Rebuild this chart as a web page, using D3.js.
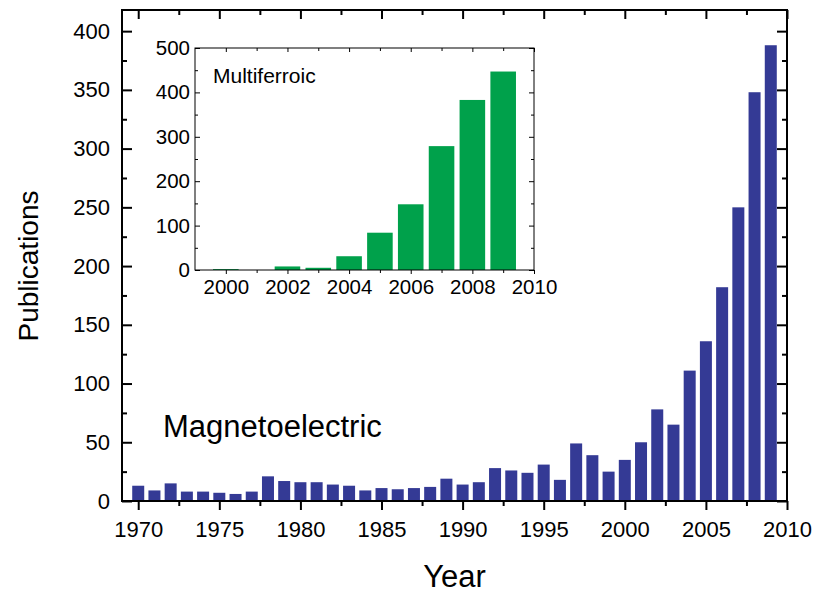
<!DOCTYPE html>
<html>
<head>
<meta charset="utf-8">
<script src="https://cdn.jsdelivr.net/npm/d3@7"></script>
<style>
  html, body { margin: 0; padding: 0; background: #fff; }
  svg { display: block; font-family: "Liberation Sans", Arial, sans-serif; }
  .axis text { fill: #000; }
  .axis line { stroke: #000; }
</style>
</head>
<body>
<svg id="chart" width="817" height="594"></svg>
<script>
// Yearly publication counts: magnetoelectric (main panel)
const meYears = d3.range(1970, 2010);
const meCounts = [13, 9, 15, 8, 8, 7, 6, 8, 21, 17,
                  16, 16, 14, 13, 9, 11, 10, 11, 12, 19,
                  14, 16, 28, 26, 24, 31, 18, 49, 39, 25,
                  35, 50, 78, 65, 111, 136, 182, 250, 348, 388];

// Yearly publication counts: multiferroic (inset)
const mfYears = d3.range(2000, 2010);
const mfCounts = [2, 0, 8, 5, 31, 84, 148, 279, 383, 447];

// Tick values
const meYTicks = [0, 50, 100, 150, 200, 250, 300, 350, 400];
const meYMinor = [25, 75, 125, 175, 225, 275, 325, 375];
const meXTicks = [1970, 1975, 1980, 1985, 1990, 1995, 2000, 2005, 2010];
const meXMinor = [1972.5, 1977.5, 1982.5, 1987.5, 1992.5, 1997.5, 2002.5, 2007.5];
const mfYTicks = [0, 100, 200, 300, 400, 500];
const mfYMinor = [50, 150, 250, 350, 450];
const mfXTicks = [2000, 2002, 2004, 2006, 2008, 2010];
const mfXMinor = [2001, 2003, 2005, 2007, 2009];

const svg = d3.select("#chart");

// ---------- main panel ----------
const frame = { left: 122, right: 787, top: 10, bottom: 501 };
const x = d3.scaleLinear().domain([1969, 2010]).range([frame.left, frame.right]);
const y = d3.scaleLinear().domain([0, 418]).range([frame.bottom, frame.top]);
const barW = (x(1) - x(0)) * 0.74;

svg.append("g").selectAll("rect")
  .data(meYears.map((yr, i) => ({ yr, v: meCounts[i] })))
  .join("rect")
  .attr("x", d => x(d.yr) - barW / 2)
  .attr("y", d => y(d.v))
  .attr("width", barW)
  .attr("height", d => y(0) - y(d.v))
  .attr("fill", "#343a95");

function styleAxis(g, fontSize, width) {
  g.attr("class", "axis");
  g.select(".domain").remove();
  g.selectAll("line").attr("stroke-width", width);
  g.selectAll("text").style("font-size", fontSize + "px");
}

// left
svg.append("g").attr("transform", `translate(${frame.left},0)`)
  .call(d3.axisLeft(y).tickValues(meYTicks).tickSize(-10).tickPadding(12))
  .call(g => styleAxis(g, 22, 2));
svg.append("g").attr("transform", `translate(${frame.left},0)`)
  .call(d3.axisLeft(y).tickValues(meYMinor).tickSize(-5).tickFormat(""))
  .call(g => styleAxis(g, 22, 2));
// right
svg.append("g").attr("transform", `translate(${frame.right},0)`)
  .call(d3.axisRight(y).tickValues(meYTicks).tickSize(-10).tickFormat(""))
  .call(g => styleAxis(g, 22, 2));
svg.append("g").attr("transform", `translate(${frame.right},0)`)
  .call(d3.axisRight(y).tickValues(meYMinor).tickSize(-5).tickFormat(""))
  .call(g => styleAxis(g, 22, 2));
// bottom
svg.append("g").attr("transform", `translate(0,${frame.bottom})`)
  .call(d3.axisBottom(x).tickValues(meXTicks).tickSize(9).tickPadding(11).tickFormat(d3.format("d")))
  .call(g => styleAxis(g, 22, 2));
svg.append("g").attr("transform", `translate(0,${frame.bottom})`)
  .call(d3.axisBottom(x).tickValues(meXMinor).tickSize(5).tickFormat(""))
  .call(g => styleAxis(g, 22, 2));
// top
svg.append("g").attr("transform", `translate(0,${frame.top})`)
  .call(d3.axisTop(x).tickValues(meXTicks).tickSize(-9).tickFormat(""))
  .call(g => styleAxis(g, 22, 2));
svg.append("g").attr("transform", `translate(0,${frame.top})`)
  .call(d3.axisTop(x).tickValues(meXMinor).tickSize(-5).tickFormat(""))
  .call(g => styleAxis(g, 22, 2));

svg.append("rect")
  .attr("x", frame.left).attr("y", frame.top)
  .attr("width", frame.right - frame.left).attr("height", frame.bottom - frame.top)
  .attr("fill", "none").attr("stroke", "#000").attr("stroke-width", 2);

// titles
svg.append("text")
  .attr("x", (frame.left + frame.right) / 2).attr("y", 587)
  .attr("text-anchor", "middle").style("font-size", "31px").text("Year");
svg.append("text")
  .attr("transform", "translate(38,266) rotate(-90)")
  .attr("text-anchor", "middle").style("font-size", "28px").text("Publications");
svg.append("text")
  .attr("x", 163).attr("y", 437)
  .style("font-size", "31px").text("Magnetoelectric");

// ---------- inset ----------
const inset = { left: 195, right: 534, top: 48, bottom: 270 };
const xi = d3.scaleLinear().domain([1999, 2010]).range([inset.left, inset.right]);
const yi = d3.scaleLinear().domain([0, 500]).range([inset.bottom, inset.top]);
const barWi = (xi(1) - xi(0)) * 0.83;

const ins = svg.append("g");
ins.append("rect")
  .attr("x", inset.left).attr("y", inset.top)
  .attr("width", inset.right - inset.left).attr("height", inset.bottom - inset.top)
  .attr("fill", "#fff");

ins.append("g").selectAll("rect")
  .data(mfYears.map((yr, i) => ({ yr, v: mfCounts[i] })))
  .join("rect")
  .attr("x", d => xi(d.yr) - barWi / 2)
  .attr("y", d => yi(d.v))
  .attr("width", barWi)
  .attr("height", d => yi(0) - yi(d.v))
  .attr("fill", "#00a14b");

ins.append("g").attr("transform", `translate(${inset.left},0)`)
  .call(d3.axisLeft(yi).tickValues(mfYTicks).tickSize(-5).tickPadding(5))
  .call(g => styleAxis(g, 20.5, 1));
ins.append("g").attr("transform", `translate(${inset.left},0)`)
  .call(d3.axisLeft(yi).tickValues(mfYMinor).tickSize(-3).tickFormat(""))
  .call(g => styleAxis(g, 20.5, 1));
ins.append("g").attr("transform", `translate(${inset.right},0)`)
  .call(d3.axisRight(yi).tickValues(mfYTicks).tickSize(-5).tickFormat(""))
  .call(g => styleAxis(g, 20.5, 1));
ins.append("g").attr("transform", `translate(${inset.right},0)`)
  .call(d3.axisRight(yi).tickValues(mfYMinor).tickSize(-3).tickFormat(""))
  .call(g => styleAxis(g, 20.5, 1));
ins.append("g").attr("transform", `translate(0,${inset.bottom})`)
  .call(d3.axisBottom(xi).tickValues(mfXTicks).tickSize(4).tickPadding(5.5).tickFormat(d3.format("d")))
  .call(g => styleAxis(g, 20.5, 1));
ins.append("g").attr("transform", `translate(0,${inset.bottom})`)
  .call(d3.axisBottom(xi).tickValues(mfXMinor).tickSize(3).tickFormat(""))
  .call(g => styleAxis(g, 20.5, 1));
ins.append("g").attr("transform", `translate(0,${inset.top})`)
  .call(d3.axisTop(xi).tickValues(mfXTicks).tickSize(-4).tickFormat(""))
  .call(g => styleAxis(g, 20.5, 1));
ins.append("g").attr("transform", `translate(0,${inset.top})`)
  .call(d3.axisTop(xi).tickValues(mfXMinor).tickSize(-3).tickFormat(""))
  .call(g => styleAxis(g, 20.5, 1));

ins.append("rect")
  .attr("x", inset.left).attr("y", inset.top)
  .attr("width", inset.right - inset.left).attr("height", inset.bottom - inset.top)
  .attr("fill", "none").attr("stroke", "#000").attr("stroke-width", 1);

ins.append("text")
  .attr("x", 213).attr("y", 83)
  .style("font-size", "21px").text("Multiferroic");
</script>
</body>
</html>
